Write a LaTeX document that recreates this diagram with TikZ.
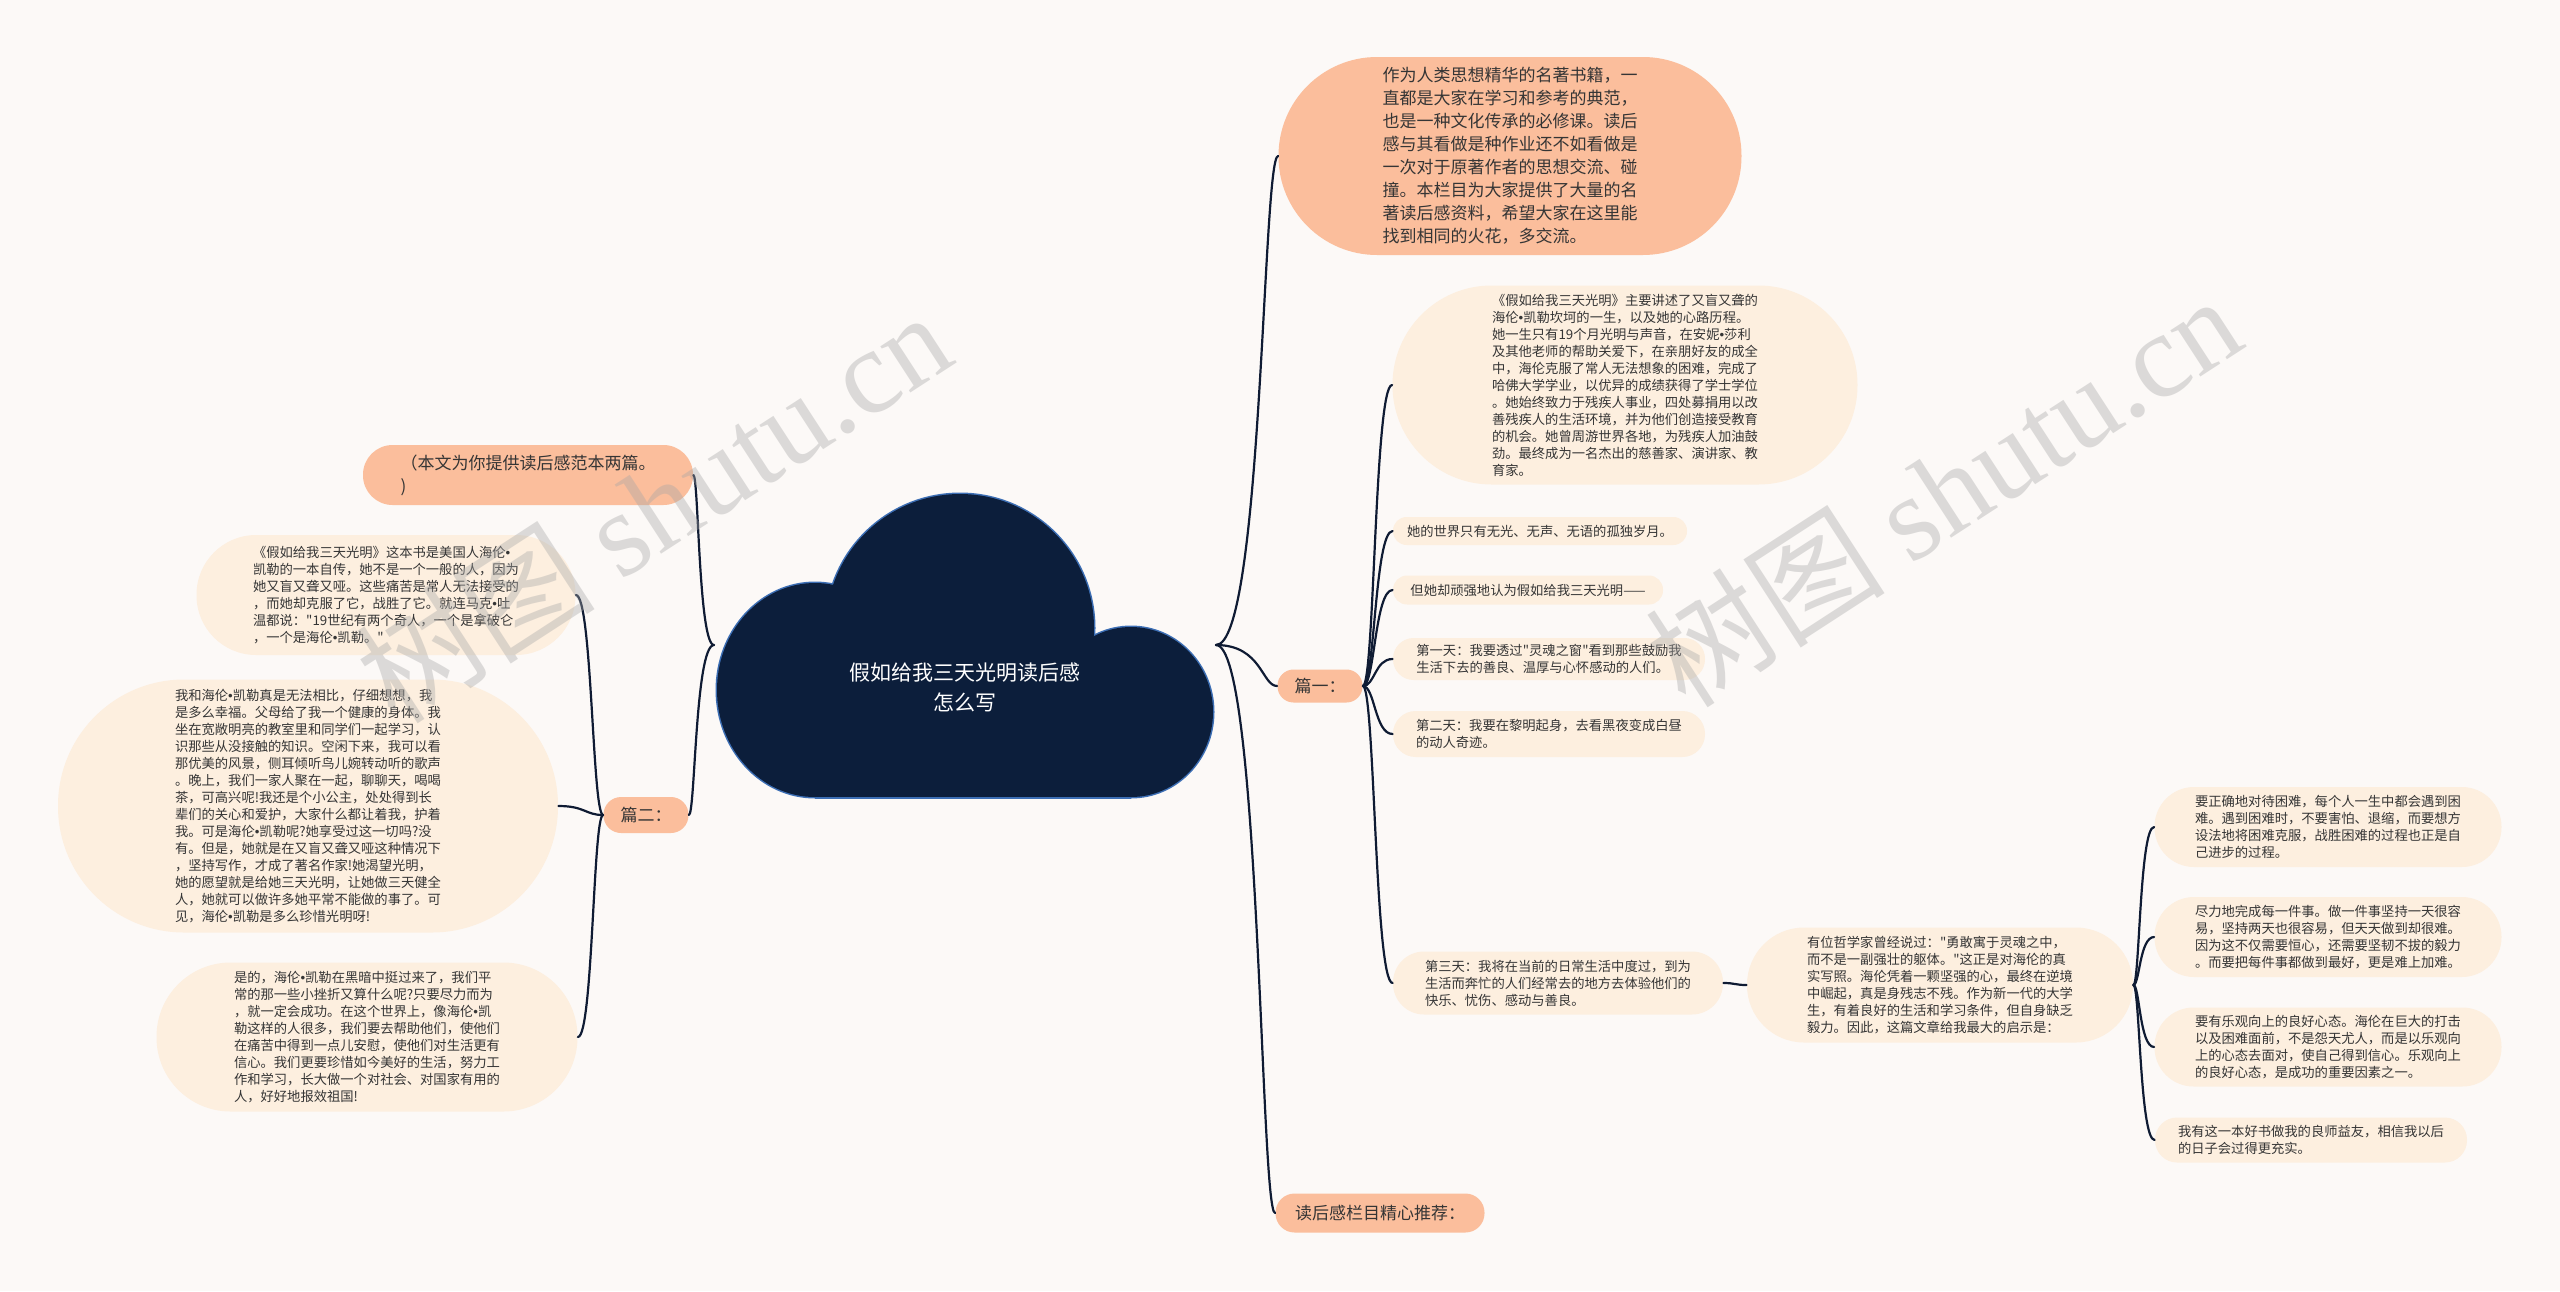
\documentclass[tikz,border=0pt]{standalone}
\usepackage{fontspec}
\setmainfont{Noto Sans CJK SC}[Ligatures=TeXOff]
\newfontfamily\wmfont{Liberation Serif}
\newfontfamily\bulf{Liberation Sans}
\newcommand\bu{{\bulf •}}
\usetikzlibrary{calc}
\definecolor{bgc}{HTML}{FCF9F7}
\definecolor{salm}{HTML}{FBBE9C}
\definecolor{creamc}{HTML}{FDEFDF}
\definecolor{navy}{HTML}{0C1E3B}
\definecolor{navyedge}{HTML}{3C6EB4}
\definecolor{linec}{HTML}{0F1B33}
\definecolor{txt}{HTML}{353535}
\tikzset{
  sz/.style 2 args={minimum width=#1*0.5pt, minimum height=#2*0.5pt, rounded corners=#2*0.25pt-0.2pt},
  cream/.style={fill=creamc, draw=none, text=txt, align=left, inner sep=0pt,
    font=\fontsize{6.65}{8.5}\selectfont},
  salmon/.style={fill=salm, draw=none, text=txt, align=left, inner sep=0pt,
    font=\fontsize{8.5}{11.5}\selectfont},
  conn/.style={draw=linec, line width=1.1pt, line cap=round},
  wmark/.style={text=gray!70, opacity=0.38, rotate=33, inner sep=0pt}
}
\newcommand\cnx[3][0.5]{\draw[conn] let \p1=(#2), \p2=(#3) in (\p1) .. controls ({\x1+#1*(\x2-\x1)},\y1) and ({\x1+#1*(\x2-\x1)},\y2) .. (\p2);}
\begin{document}
\begin{tikzpicture}[x=0.5pt,y=-0.5pt]
\fill[bgc] (0,0) rectangle (2560,1291);
\useasboundingbox (0,0) rectangle (2560,1291);

% cloud
\fill[navyedge] (815,690) ellipse [x radius=99.5, y radius=108.5];
\fill[navyedge] (1131,712) ellipse [x radius=83.5, y radius=86.5];
\fill[navyedge] (960,628) circle (135.5);
\fill[navyedge] (815,690) rectangle (1131,798.5);
\fill[navy] (815,690) ellipse [x radius=98, y radius=107];
\fill[navy] (1131,712) ellipse [x radius=82, y radius=85];
\fill[navy] (960,628) circle (134);
\fill[navy] (815,690) rectangle (1131,797);
\node[text=white, align=center, inner sep=0pt, font=\fontsize{10.5}{15}\selectfont] (cloud) at (965,687) {假如给我三天光明读后感\\怎么写};
\coordinate (cR) at (1216,645);
\coordinate (cL) at (714,645);

% right side
\node[salmon, sz={463}{198}] (top) at (1510,156) {作为人类思想精华的名著书籍，一\\直都是大家在学习和参考的典范，\\也是一种文化传承的必修课。读后\\感与其看做是种作业还不如看做是\\一次对于原著作者的思想交流、碰\\撞。本栏目为大家提供了大量的名\\著读后感资料，希望大家在这里能\\找到相同的火花，多交流。};
\node[salmon, sz={85}{33}] (p1) at (1320,686) {篇一：};
\node[salmon, sz={209}{39}] (rec) at (1380,1213) {读后感栏目精心推荐：};

\node[cream, sz={465}{199}] (a) at (1625,385) {《假如给我三天光明》主要讲述了又盲又聋的\\海伦\bu 凯勒坎坷的一生，以及她的心路历程。\\她一生只有19个月光明与声音，在安妮\bu 莎利\\及其他老师的帮助关爱下，在亲朋好友的成全\\中，海伦克服了常人无法想象的困难，完成了\\哈佛大学学业，以优异的成绩获得了学士学位\\。她始终致力于残疾人事业，四处募捐用以改\\善残疾人的生活环境，并为他们创造接受教育\\的机会。她曾周游世界各地，为残疾人加油鼓\\劲。最终成为一名杰出的慈善家、演讲家、教\\育家。};
\node[cream, sz={294}{28}] (b) at (1540,531) {她的世界只有无光、无声、无语的孤独岁月。};
\node[cream, sz={270}{29}] (c) at (1528,590) {但她却顽强地认为假如给我三天光明——};
\node[cream, sz={312}{42}] (d) at (1549,659) {第一天：我要透过"灵魂之窗"看到那些鼓励我\\生活下去的善良、温厚与心怀感动的人们。};
\node[cream, sz={312}{46}] (e) at (1549,734) {第二天：我要在黎明起身，去看黑夜变成白昼\\的动人奇迹。};
\node[cream, sz={330}{63}] (f) at (1558,983) {第三天：我将在当前的日常生活中度过，到为\\生活而奔忙的人们经常去的地方去体验他们的\\快乐、忧伤、感动与善良。};
\node[cream, sz={386}{115}] (g) at (1940,985) {有位哲学家曾经说过："勇敢寓于灵魂之中，\\而不是一副强壮的躯体。"这正是对海伦的真\\实写照。海伦凭着一颗坚强的心，最终在逆境\\中崛起，真是身残志不残。作为新一代的大学\\生，有着良好的生活和学习条件，但自身缺乏\\毅力。因此，这篇文章给我最大的启示是：};
\node[cream, sz={347}{80}] (h1) at (2328,827) {要正确地对待困难，每个人一生中都会遇到困\\难。遇到困难时，不要害怕、退缩，而要想方\\设法地将困难克服，战胜困难的过程也正是自\\己进步的过程。};
\node[cream, sz={347}{80}] (h2) at (2328,937) {尽力地完成每一件事。做一件事坚持一天很容\\易，坚持两天也很容易，但天天做到却很难。\\因为这不仅需要恒心，还需要坚韧不拔的毅力\\。而要把每件事都做到最好，更是难上加难。};
\node[cream, sz={347}{79}] (h3) at (2328,1047) {要有乐观向上的良好心态。海伦在巨大的打击\\以及困难面前，不是怨天尤人，而是以乐观向\\上的心态去面对，使自己得到信心。乐观向上\\的良好心态，是成功的重要因素之一。};
\node[cream, sz={312}{45}] (h4) at (2311,1140) {我有这一本好书做我的良师益友，相信我以后\\的日子会过得更充实。};

% left side
\node[salmon, sz={330}{60}] (ben) at (528,475) {（本文为你提供读后感范本两篇。\\)};
\node[salmon, sz={85}{36}] (p2) at (646,815) {篇二：};
\node[cream, sz={379}{120}] (l1) at (386,595) {《假如给我三天光明》这本书是美国人海伦\bu\\凯勒的一本自传，她不是一个一般的人，因为\\她又盲又聋又哑。这些痛苦是常人无法接受的\\，而她却克服了它，战胜了它。就连马克\bu 吐\\温都说："19世纪有两个奇人，一个是拿破仑\\，一个是海伦\bu 凯勒。"};
\node[cream, sz={500}{253}] (l2) at (308,806) {我和海伦\bu 凯勒真是无法相比，仔细想想，我\\是多么幸福。父母给了我一个健康的身体。我\\坐在宽敞明亮的教室里和同学们一起学习，认\\识那些从没接触的知识。空闲下来，我可以看\\那优美的风景，侧耳倾听鸟儿婉转动听的歌声\\。晚上，我们一家人聚在一起，聊聊天，喝喝\\茶，可高兴呢!我还是个小公主，处处得到长\\辈们的关心和爱护，大家什么都让着我，护着\\我。可是海伦\bu 凯勒呢?她享受过这一切吗?没\\有。但是，她就是在又盲又聋又哑这种情况下\\，坚持写作，才成了著名作家!她渴望光明，\\她的愿望就是给她三天光明，让她做三天健全\\人，她就可以做许多她平常不能做的事了。可\\见，海伦\bu 凯勒是多么珍惜光明呀!};
\node[cream, sz={421}{149}] (l3) at (367,1037) {是的，海伦\bu 凯勒在黑暗中挺过来了，我们平\\常的那一些小挫折又算什么呢?只要尽力而为\\，就一定会成功。在这个世界上，像海伦\bu 凯\\勒这样的人很多，我们要去帮助他们，使他们\\在痛苦中得到一点儿安慰，使他们对生活更有\\信心。我们更要珍惜如今美好的生活，努力工\\作和学习，长大做一个对社会、对国家有用的\\人，好好地报效祖国!};

% connectors
\cnx[0.75]{cR}{top.west}
\cnx[0.75]{cR}{p1.west}
\cnx[0.75]{cR}{rec.west}
\cnx[0.75]{cL}{ben.east}
\cnx[0.75]{cL}{p2.east}
\foreach \t in {a,b,c,d,e,f}{\cnx[0.4]{p1.east}{\t.west}}
\cnx{f.east}{g.west}
\foreach \t in {h1,h2,h3,h4}{\cnx[0.3]{g.east}{\t.west}}
\foreach \t in {l1,l2,l3}{\cnx[0.4]{p2.west}{\t.east}}

% watermarks
\node[wmark, font=\fontsize{60}{60}\selectfont] (wm1) at (653,506) {树图 {\wmfont shutu.cn}};
\node[wmark, font=\fontsize{60}{60}\selectfont] (wm2) at (1943,490) {树图 {\wmfont shutu.cn}};
\end{tikzpicture}
\end{document}
